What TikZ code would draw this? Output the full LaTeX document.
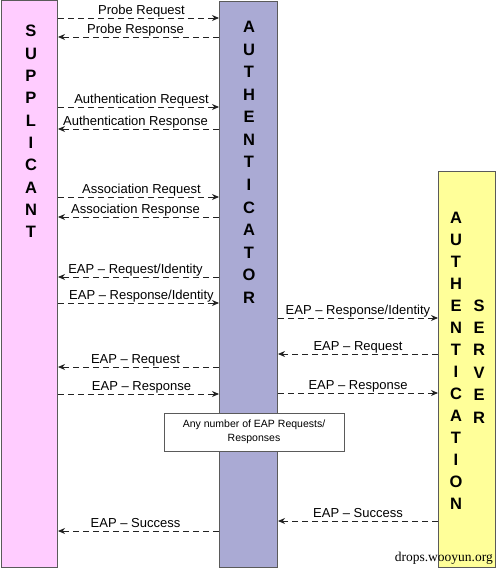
\documentclass[tikz,border=0pt]{standalone}
\usepackage{fontspec}
\setmainfont{Liberation Sans}
\newfontfamily\wmfont{Liberation Serif}
\usetikzlibrary{arrows.meta}
\definecolor{suppc}{HTML}{FFCCFF}
\definecolor{authc}{HTML}{AAAAD4}
\definecolor{servc}{HTML}{FFFF99}
\definecolor{bordc}{HTML}{5A5A5A}
\definecolor{arrc}{HTML}{222222}
\tikzset{
  column/.style={draw=bordc, line width=1pt, inner sep=0pt, anchor=north west},
  letter/.style={font=\fontsize{16.5}{18}\selectfont\bfseries, inner sep=0pt, anchor=base},
  msg/.style={draw=arrc, line width=0.9pt, dash pattern=on 6pt off 4pt, -{Stealth[length=7pt,width=6pt]}},
  lbl/.style={font=\fontsize{13}{15}\selectfont, inner sep=1pt, text height=0.72em, text depth=0.22em, above},
  notebox/.style={draw=bordc, line width=1pt, fill=white, minimum width=180pt, minimum height=38pt, align=center, font=\fontsize{10.5}{14}\selectfont, inner sep=0pt}
}
\begin{document}
\begin{tikzpicture}[x=1pt,y=-1pt]
\useasboundingbox (0,0) rectangle (496,569);
% columns
\node[column, fill=suppc, minimum width=56pt, minimum height=566.5pt] (supp) at (1,0.5) {};
\node[column, fill=authc, minimum width=58pt, minimum height=566pt] (auth) at (219,1) {};
\node[column, fill=servc, minimum width=57pt, minimum height=396pt] (serv) at (438,171) {};
% column letters
\foreach \l [count=\i from 0] in {S,U,P,P,L,I,C,A,N,T}
  \node[letter] (sl\i) at (31,{37+22.3*\i}) {\l};
\foreach \l [count=\i from 0] in {A,U,T,H,E,N,T,I,C,A,T,O,R}
  \node[letter] (al\i) at (249,{33+22.5*\i}) {\l};
\foreach \l [count=\i from 0] in {A,U,T,H,E,N,T,I,C,A,T,I,O,N}
  \node[letter] (vl\i) at (456,{223+22*\i}) {\l};
\foreach \l [count=\i from 0] in {S,E,R,V,E,R}
  \node[letter] (wl\i) at (479,{311+22.4*\i}) {\l};
% supplicant <-> authenticator
\draw[msg] (supp.east |- 0,18) -- node[lbl, xshift=3pt] {Probe Request} (auth.west |- 0,18);
\draw[msg] (auth.west |- 0,37) -- node[lbl, xshift=-3pt] {Probe Response} (supp.east |- 0,37);
\draw[msg] (supp.east |- 0,107) -- node[lbl, xshift=3pt] {Authentication Request} (auth.west |- 0,107);
\draw[msg] (auth.west |- 0,129) -- node[lbl, xshift=-3pt] {Authentication Response} (supp.east |- 0,129);
\draw[msg] (supp.east |- 0,197) -- node[lbl, xshift=3pt] {Association Request} (auth.west |- 0,197);
\draw[msg] (auth.west |- 0,217) -- node[lbl, xshift=-3pt] {Association Response} (supp.east |- 0,217);
\draw[msg] (auth.west |- 0,277) -- node[lbl, xshift=-3pt] {EAP -- Request/Identity} (supp.east |- 0,277);
\draw[msg] (supp.east |- 0,303) -- node[lbl, xshift=3pt] {EAP -- Response/Identity} (auth.west |- 0,303);
\draw[msg] (auth.west |- 0,367) -- node[lbl, xshift=-3pt] {EAP -- Request} (supp.east |- 0,367);
\draw[msg] (supp.east |- 0,394) -- node[lbl, xshift=3pt] {EAP -- Response} (auth.west |- 0,394);
\draw[msg] (auth.west |- 0,531) -- node[lbl, xshift=-3pt] {EAP -- Success} (supp.east |- 0,531);
% authenticator <-> server
\draw[msg] (auth.east |- 0,318) -- node[lbl] {EAP -- Response/Identity} (serv.west |- 0,318);
\draw[msg] (serv.west |- 0,354) -- node[lbl] {EAP -- Request} (auth.east |- 0,354);
\draw[msg] (auth.east |- 0,393) -- node[lbl] {EAP -- Response} (serv.west |- 0,393);
\draw[msg] (serv.west |- 0,521) -- node[lbl] {EAP -- Success} (auth.east |- 0,521);
% note box
\node[notebox] (note) at (254,432) {Any number of EAP Requests/\\Responses};
% watermark
\node[font=\wmfont\fontsize{13.5}{15}\selectfont, inner sep=0pt, anchor=base east] (wm) at (493,561) {drops.wooyun.org};
\end{tikzpicture}
\end{document}
